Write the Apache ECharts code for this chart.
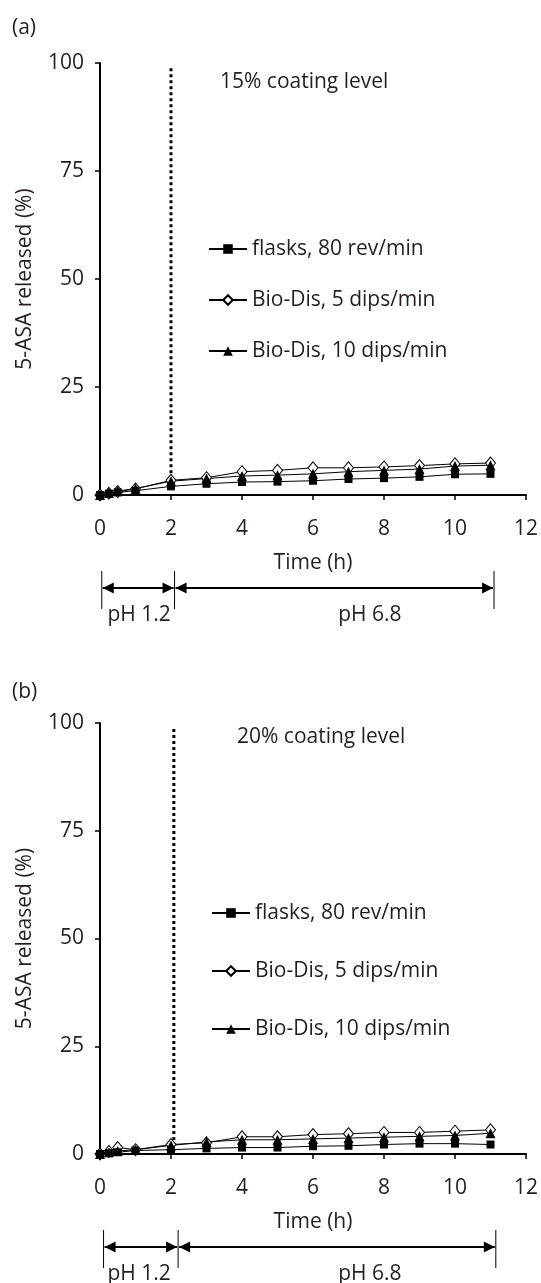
<!DOCTYPE html>
<html>
<head>
<meta charset="utf-8">
<script src="https://cdn.jsdelivr.net/npm/echarts@6/dist/echarts.min.js"></script>
<style>
  html, body { margin: 0; background: #fff; }
  #chart { width: 541px; height: 1283px; }
</style>
</head>
<body>
<div id="chart"></div>
<script>
// sampling times (h)
const timeH = [0, 0.25, 0.5, 1, 2, 3, 4, 5, 6, 7, 8, 9, 10, 11];
const seriesNames = ['flasks, 80 rev/min', 'Bio-Dis, 5 dips/min', 'Bio-Dis, 10 dips/min'];

// (a) 15% coating level
const flasksA = [0, 0.3, 0.6, 1.0, 2.0, 2.6, 3.0, 3.1, 3.3, 3.7, 3.9, 4.2, 4.8, 4.9];
const dips5A = [0, 0.4, 0.8, 1.4, 3.4, 4.0, 5.4, 5.7, 6.3, 6.3, 6.5, 6.8, 7.2, 7.4];
const dips10A = [0, 0.5, 0.9, 1.5, 3.2, 3.8, 4.4, 4.6, 4.9, 5.4, 5.7, 6.0, 6.7, 6.9];

// (b) 20% coating level
const flasksB = [0, 0.2, 0.4, 0.8, 1.0, 1.3, 1.5, 1.5, 1.8, 1.9, 2.2, 2.4, 2.4, 2.2];
const dips5B = [0, 0.6, 1.5, 1.0, 2.2, 2.6, 4.0, 4.0, 4.5, 4.7, 5.0, 5.0, 5.3, 5.6];
const dips10B = [0, 0.4, 0.7, 1.0, 2.0, 2.8, 3.3, 3.3, 3.5, 3.7, 3.9, 4.1, 4.3, 4.8];

const panelTitles = ['(a)', '(b)'];
const coatingLabels = ['15% coating level', '20% coating level'];

// dotted divider at the pH change
const dividerA = [[2, 98.8], [2, 3.4]];
const dividerB = [[2.08, 98.6], [2.08, 2.3]];

// pH bracket edges and label centres (in hours)
const phLabels = ['pH 1.2', 'pH 6.8'];
const phEdgesA = [0.05, 2.1, 11.1];
const phEdgesB = [0.1, 2.2, 11.15];
const phLabelPosA = [1.1, 7.6];
const phLabelPosB = [1.1, 7.6];

const txt = '#231f20';
const font = '"Open Sans", "Noto Sans", sans-serif';
const fs = 21;

const markerStyles = [
  { symbol: 'rect', symbolSize: 8, itemStyle: { color: '#000' } },
  { symbol: 'diamond', symbolSize: [10, 12], itemStyle: { color: '#fff', borderColor: '#000', borderWidth: 1 } },
  { symbol: 'triangle', symbolSize: 10, itemStyle: { color: '#000' } }
];

function makeSeries(values, i, gi) {
  return Object.assign({
    name: seriesNames[i],
    type: 'line',
    xAxisIndex: gi,
    yAxisIndex: gi,
    data: timeH.map((t, k) => [t, values[k]]),
    lineStyle: { color: '#000', width: 1 },
    showAllSymbol: true,
    z: 3
  }, markerStyles[i]);
}

function makeDivider(pts, gi) {
  return {
    name: 'divider',
    type: 'line',
    xAxisIndex: gi,
    yAxisIndex: gi,
    data: pts,
    symbol: 'none',
    lineStyle: { color: '#000', width: 3, type: [3, 3] },
    z: 2
  };
}

function makeX(gi) {
  return {
    type: 'value', gridIndex: gi, min: 0, max: 12, interval: 2,
    name: 'Time (h)', nameLocation: 'middle', nameGap: 58,
    nameTextStyle: { fontSize: fs, color: txt, fontFamily: font },
    axisLine: { onZero: false, lineStyle: { color: '#000', width: 2 } },
    axisTick: { length: 5, lineStyle: { color: '#000', width: 1.5 } },
    axisLabel: { fontSize: fs, color: txt, fontFamily: font, margin: 24 },
    splitLine: { show: false }
  };
}

function makeY(gi) {
  return {
    type: 'value', gridIndex: gi, min: 0, max: 100, interval: 25,
    name: '5-ASA released (%)', nameLocation: 'middle', nameGap: 64,
    nameTextStyle: { fontSize: fs, color: txt, fontFamily: font },
    axisLine: { show: true, lineStyle: { color: '#000', width: 2 } },
    axisTick: { show: true, length: 5, lineStyle: { color: '#000', width: 1.5 } },
    axisLabel: { fontSize: fs, color: txt, fontFamily: font, margin: 16 },
    splitLine: { show: false }
  };
}

function makeLegend(left, top, gap) {
  return {
    data: seriesNames, orient: 'vertical', left: left, top: top, padding: 0,
    itemWidth: 38, itemHeight: 12, itemGap: gap, selectedMode: false,
    textStyle: { fontSize: fs, color: txt, fontFamily: font, lineHeight: 22 }
  };
}

function makeTitle(text, left, top) {
  return { text: text, left: left, top: top, padding: 0,
    textStyle: { fontSize: fs, fontWeight: 'normal', color: txt, fontFamily: font } };
}

const chart = echarts.init(document.getElementById('chart'));

chart.setOption({
  animation: false,
  backgroundColor: '#fff',
  title: [
    makeTitle(panelTitles[0], 12, 18),
    makeTitle(coatingLabels[0], 220, 72),
    makeTitle(panelTitles[1], 12, 682),
    makeTitle(coatingLabels[1], 237, 727)
  ],
  legend: [makeLegend(208, 238, 29), makeLegend(211, 902, 36)],
  grid: [
    { left: 100, top: 63, width: 431, height: 432 },
    { left: 100, top: 723, width: 431, height: 431 }
  ],
  xAxis: [makeX(0), makeX(1)],
  yAxis: [makeY(0), makeY(1)],
  series: [
    makeDivider(dividerA, 0),
    makeSeries(dips5A, 1, 0),
    makeSeries(dips10A, 2, 0),
    makeSeries(flasksA, 0, 0),
    makeDivider(dividerB, 1),
    makeSeries(dips5B, 1, 1),
    makeSeries(dips10B, 2, 1),
    makeSeries(flasksB, 0, 1)
  ]
});

// pH brackets under each x axis
function phBracket(gi, edges, labelPos) {
  const base = chart.convertToPixel({ yAxisIndex: gi }, 0);
  const xs = edges.map(v => chart.convertToPixel({ xAxisIndex: gi }, v));
  const yTop = base + 76, yBot = base + 114, yArrow = base + 93;
  const els = [];
  xs.forEach(x => {
    els.push({ type: 'line', shape: { x1: x, y1: yTop, x2: x, y2: yBot }, style: { stroke: '#000', lineWidth: 1 } });
  });
  for (let k = 0; k < 2; k++) {
    const x0 = xs[k] + 1, x1 = xs[k + 1] - 1;
    els.push({ type: 'line', shape: { x1: x0, y1: yArrow, x2: x1, y2: yArrow }, style: { stroke: '#000', lineWidth: 2 } });
    els.push({ type: 'polygon', shape: { points: [[x0, yArrow], [x0 + 11, yArrow - 5.5], [x0 + 11, yArrow + 5.5]] }, style: { fill: '#000' } });
    els.push({ type: 'polygon', shape: { points: [[x1, yArrow], [x1 - 11, yArrow - 5.5], [x1 - 11, yArrow + 5.5]] }, style: { fill: '#000' } });
    els.push({
      type: 'text',
      x: chart.convertToPixel({ xAxisIndex: gi }, labelPos[k]),
      y: base + 120,
      style: { text: phLabels[k], fontSize: fs, fill: txt, fontFamily: font, align: 'center', verticalAlign: 'middle' }
    });
  }
  return els;
}

chart.setOption({
  graphic: phBracket(0, phEdgesA, phLabelPosA).concat(phBracket(1, phEdgesB, phLabelPosB))
});
</script>
</body>
</html>
